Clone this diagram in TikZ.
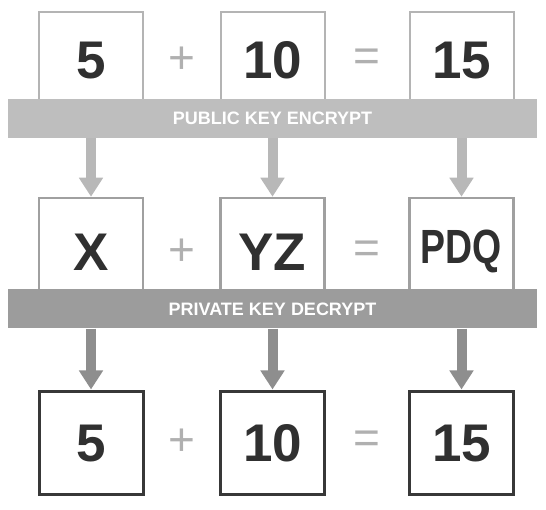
\documentclass[tikz,border=0pt]{standalone}
\usepackage{fontspec}
\setmainfont{Liberation Sans}
\usetikzlibrary{arrows.meta,positioning,calc}
\definecolor{numgray}{HTML}{303030}
\definecolor{opgray}{HTML}{B0B0B0}
\definecolor{topline}{HTML}{B4B4B4}
\definecolor{midline}{HTML}{A0A0A0}
\definecolor{lowline}{HTML}{383838}
\definecolor{encbar}{HTML}{BEBEBE}
\definecolor{decbar}{HTML}{9C9C9C}
\definecolor{encarrow}{HTML}{B8B8B8}
\definecolor{decarrow}{HTML}{8E8E8E}

\begin{document}
\begin{tikzpicture}[x=1pt,y=-1pt,
  numbox/.style={draw,fill=white,minimum width=104pt,inner sep=0pt,text=numgray,
    font=\bfseries\fontsize{53}{53}\selectfont,text height=38pt,text depth=0pt},
  keybar/.style={minimum width=529pt,minimum height=39pt,inner sep=0pt,text=white,
    font=\bfseries\fontsize{18}{18}\selectfont},
  op/.style={text=opgray,font=\fontsize{46}{46}\selectfont,inner sep=0pt},
  down/.style={line width=10pt,-{Triangle[width=23pt,length=19pt]}}]
  \useasboundingbox (0,0) rectangle (546,510);

  % plain numbers
  \node[numbox,draw=topline,line width=2pt,minimum height=96pt] (a1) at (91,60) {5};
  \node[numbox,draw=topline,line width=2pt,minimum height=96pt] (a2) at (272.5,60) {10};
  \node[numbox,draw=topline,line width=2pt,minimum height=96pt] (a3) at (461.5,60) {15};
  \node[keybar,fill=encbar] (enc) at (272.5,118.5) {PUBLIC KEY ENCRYPT};

  % encrypted
  \node[numbox,draw=midline,line width=2.5pt,minimum height=108pt] (b1) at (91,252) {X};
  \node[numbox,draw=midline,line width=2.5pt,minimum height=108pt] (b2) at (272.5,252) {YZ};
  \node[numbox,draw=midline,line width=2.5pt,minimum height=108pt,
    font=\bfseries\fontsize{48}{48}\selectfont,text height=34pt,text depth=10pt] (b3) at (461.5,252)
    {\scalebox{0.78}[1]{PDQ}};
  \node[keybar,fill=decbar] (dec) at (272.5,309) {PRIVATE KEY DECRYPT};

  % decrypted again
  \node[numbox,draw=lowline,line width=3pt,minimum height=103pt] (c1) at (91,442.5) {5};
  \node[numbox,draw=lowline,line width=3pt,minimum height=103pt] (c2) at (272.5,442.5) {10};
  \node[numbox,draw=lowline,line width=3pt,minimum height=103pt] (c3) at (461.5,442.5) {15};

  \foreach \r in {a,b,c}{
    \node[op] (\r plus) at ($(\r1.east)!0.5!(\r2.west)$) {+};
    \node[op] (\r eq) at ($(\r2.east)!0.5!(\r3.west)$) {=};
  }

  \foreach \i in {1,2,3}{
    \draw[down,encarrow] (enc.south -| b\i.north) -- (b\i.north);
    \draw[down,decarrow] (dec.south -| c\i.north) -- (c\i.north);
  }
\end{tikzpicture}
\end{document}
